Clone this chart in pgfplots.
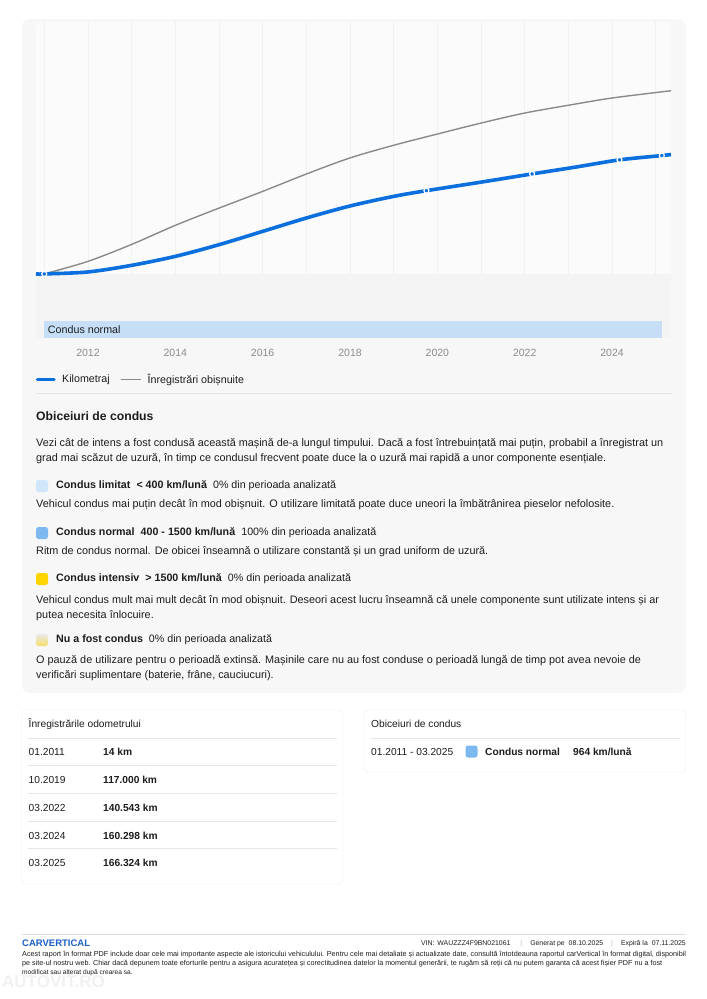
\documentclass[border=0pt]{standalone}
\usepackage{fontspec}
\setmainfont{Liberation Sans}
\usepackage{pgfplots}
\pgfplotsset{compat=1.18}
\definecolor{kmblue}{HTML}{0B6FDE}
\definecolor{lgrey}{HTML}{8A8A8A}
\definecolor{cardbg}{HTML}{F7F7F7}
\definecolor{plotbg}{HTML}{FBFBFB}
\definecolor{zerobg}{HTML}{F4F4F4}
\definecolor{gridc}{HTML}{F1F1F1}
\definecolor{bandblue}{HTML}{C6DFF7}
\definecolor{txt}{HTML}{1D1D1F}
\definecolor{tickc}{HTML}{8C8C8C}
\definecolor{limblue}{HTML}{CFE6FB}
\definecolor{normblue}{HTML}{7DB8F1}
\definecolor{intyel}{HTML}{FFD400}
\definecolor{sepc}{HTML}{E6E6E6}
\definecolor{logoblue}{HTML}{1A5FC8}
\definecolor{nuA}{HTML}{E9E9E9}
\definecolor{nuB}{HTML}{F6DD6A}
\definecolor{cardline}{HTML}{ECECEC}
\definecolor{footline}{HTML}{DDDDDD}
\definecolor{barc}{HTML}{BBBBBB}
\definecolor{wmark}{HTML}{F1F1F1}
\newcommand{\fs}[1]{\fontsize{#1}{#1}\selectfont}
\tikzset{t/.style={anchor=west, inner sep=0pt, text=txt}}
\begin{document}
\begin{tikzpicture}[x=1pt,y=1pt]
\useasboundingbox (0,0) rectangle (707,-999);
\fill[white] (0,0) rectangle (707,-999);
% big card
\fill[cardbg, rounded corners=8pt] (22,-19) rectangle (686,-693);
\fill[plotbg, rounded corners=5pt] (36,-22) rectangle (671,-338);
\begin{axis}[at={(36pt,-338pt)}, anchor=south west, width=635pt, height=316pt, scale only axis,
  xmin=2010.81, xmax=2025.35, ymin=-90000, ymax=354000,
  axis line style={draw=none}, ytick=\empty,
  xtick={2012,2014,2016,2018,2020,2022,2024},
  xticklabels={2012,2014,2016,2018,2020,2022,2024},
  minor xtick={2011,2013,2015,2017,2019,2021,2023,2025},
  xmajorgrids, xminorgrids,
  major grid style={gridc, line width=0.7pt},
  minor grid style={gridc, line width=0.7pt},
  major tick length=0pt, minor tick length=0pt,
  xticklabel style={font=\fs{10.5}, text=tickc, anchor=center, yshift=-15pt},
  /pgf/number format/assume math mode=true,
  clip=false]
\addplot[fill=zerobg, draw=none, forget plot] coordinates {(2010.81,-90000) (2025.35,-90000) (2025.35,0) (2010.81,0)} -- cycle;
\addplot[fill=bandblue, draw=none, forget plot] coordinates {(2011.0,-89800) (2025.14,-89800) (2025.14,-66600) (2011.0,-66600)} -- cycle;
\node[t, font=\fs{10.7}] at (axis cs:2011.08,-78200) {Condus normal};
\addplot[smooth, color=lgrey, line width=1.4pt] coordinates {
(2011.0,14) (2012,17700) (2013,41500) (2014,68300) (2015,92500) (2016,116000) (2017,140400)
(2018,163000) (2019,180800) (2020,196600) (2021,212000) (2022,226100) (2023,237000)
(2024,247200) (2025.35,257400)};
\addplot[smooth, color=kmblue, line width=3.6pt] coordinates {
(2010.81,14) (2011.0,14) (2012,2800) (2013,12100) (2014,24700) (2015,41100) (2016,59800)
(2017,78600) (2018,95500) (2019,109000) (2019.75,117000) (2021,129000) (2022.17,140543)
(2023.2,150500) (2024.17,160298) (2025.14,166324) (2025.35,167800)};
\addplot[only marks, mark=*, mark size=2.5pt, mark options={fill=kmblue, draw=white, line width=1.2pt}] coordinates {
(2011.0,14) (2019.75,117000) (2022.17,140543) (2024.17,160298) (2025.14,166324)};
\end{axis}
% legend
\draw[kmblue, line width=3.5pt, line cap=round] (37.5,-379.5) -- (54,-379.5);
\node[t, font=\fs{10.7}] at (62,-379.5) {Kilometraj};
\draw[lgrey, line width=1.4pt] (121,-379.5) -- (141,-379.5);
\node[t, font=\fs{10.7}] at (147.5,-379.5) {Înregistrări obișnuite};
\draw[sepc, line width=1pt] (36,-393) -- (672,-393);
% driving habits
\node[t, font=\fs{12.2}\bfseries] at (36,-416) {Obiceiuri de condus};
\node[t, font=\fs{10.85}] at (36,-444) {Vezi cât de intens a fost condusă această mașină de-a lungul timpului. Dacă a fost întrebuințată mai puțin, probabil a înregistrat un};
\node[t, font=\fs{10.85}] at (36,-459) {grad mai scăzut de uzură, în timp ce condusul frecvent poate duce la o uzură mai rapidă a unor componente esențiale.};
\fill[limblue, rounded corners=2.5pt] (36,-480) rectangle (48,-492);
\node[t, font=\fs{10.7}] at (56,-486) {\textbf{Condus limitat}\hspace{6pt}\textbf{< 400 km/lună}\hspace{6pt}0\% din perioada analizată};
\node[t, font=\fs{10.85}] at (36,-505) {Vehicul condus mai puțin decât în mod obișnuit. O utilizare limitată poate duce uneori la îmbătrânirea pieselor nefolosite.};
\fill[normblue, rounded corners=2.5pt] (36,-527) rectangle (48,-539);
\node[t, font=\fs{10.7}] at (56,-533) {\textbf{Condus normal}\hspace{6pt}\textbf{400 - 1500 km/lună}\hspace{6pt}100\% din perioada analizată};
\node[t, font=\fs{10.85}] at (36,-552) {Ritm de condus normal. De obicei înseamnă o utilizare constantă și un grad uniform de uzură.};
\fill[intyel, rounded corners=2.5pt] (36,-573) rectangle (48,-585);
\node[t, font=\fs{10.7}] at (56,-579) {\textbf{Condus intensiv}\hspace{6pt}\textbf{> 1500 km/lună}\hspace{6pt}0\% din perioada analizată};
\node[t, font=\fs{10.85}] at (36,-601) {Vehicul condus mult mai mult decât în mod obișnuit. Deseori acest lucru înseamnă că unele componente sunt utilizate intens și ar};
\node[t, font=\fs{10.85}] at (36,-615.5) {putea necesita înlocuire.};
\shade[top color=nuA, bottom color=nuB, rounded corners=2.5pt] (36,-634) rectangle (48,-646);
\node[t, font=\fs{10.7}] at (56,-640) {\textbf{Nu a fost condus}\hspace{6pt}0\% din perioada analizată};
\node[t, font=\fs{10.85}] at (36,-661) {O pauză de utilizare pentru o perioadă extinsă. Mașinile care nu au fost conduse o perioadă lungă de timp pot avea nevoie de};
\node[t, font=\fs{10.85}] at (36,-675.5) {verificări suplimentare (baterie, frâne, cauciucuri).};
% tables
\filldraw[fill=white, draw=cardline, rounded corners=4pt] (22,-710) rectangle (343,-884);
\filldraw[fill=white, draw=cardline, rounded corners=4pt] (364,-710) rectangle (686,-772);
\node[t, font=\fs{10.2}] at (28.5,-724) {Înregistrările odometrului};
\foreach \yy in {738,765.5,793,821,848.5} {\draw[sepc, line width=0.9pt] (28,-\yy) -- (337,-\yy);}
\node[t, font=\fs{10.2}] at (28.5,-751.5) {01.2011};
\node[t, font=\fs{10.2}\bfseries] at (103,-751.5) {14 km};
\node[t, font=\fs{10.2}] at (28.5,-779.5) {10.2019};
\node[t, font=\fs{10.2}\bfseries] at (103,-779.5) {117.000 km};
\node[t, font=\fs{10.2}] at (28.5,-807.5) {03.2022};
\node[t, font=\fs{10.2}\bfseries] at (103,-807.5) {140.543 km};
\node[t, font=\fs{10.2}] at (28.5,-835.5) {03.2024};
\node[t, font=\fs{10.2}\bfseries] at (103,-835.5) {160.298 km};
\node[t, font=\fs{10.2}] at (28.5,-863) {03.2025};
\node[t, font=\fs{10.2}\bfseries] at (103,-863) {166.324 km};
\node[t, font=\fs{10.2}] at (371,-724) {Obiceiuri de condus};
\draw[sepc, line width=0.9pt] (371,-738) -- (680,-738);
\node[t, font=\fs{10.2}] at (371,-751.5) {01.2011 - 03.2025};
\fill[normblue, rounded corners=2.5pt] (465.5,-745.5) rectangle (477.5,-757.5);
\node[t, font=\fs{10.2}\bfseries] at (485,-751.5) {Condus normal};
\node[t, font=\fs{10.2}\bfseries] at (573,-751.5) {964 km/lună};
% footer
\draw[footline, line width=1.5pt] (22,-934.5) -- (686,-934.5);
\node[anchor=west, inner sep=0pt, text=logoblue, font=\fs{9.5}\bfseries] at (22,-943.5) {CARVERTICAL};
\node[anchor=east, inner sep=0pt, text=txt, font=\fs{6.9}] at (686,-943.5) {VIN:\hspace{3pt}WAUZZZ4F9BN021061\hspace{10pt}{\color{barc}|}\hspace{8pt}Generat pe\hspace{2pt} 08.10.2025\hspace{8pt}{\color{barc}|}\hspace{8pt}Expiră la\hspace{2pt} 07.11.2025};
\node[t, font=\fs{6.6}] at (22,-954.5) {\resizebox{664pt}{!}{Acest raport în format PDF include doar cele mai importante aspecte ale istoricului vehiculului. Pentru cele mai detaliate și actualizate date, consultă întotdeauna raportul carVertical în format digital, disponibil}};
\node[t, font=\fs{6.6}] at (22,-963.5) {\resizebox{640pt}{!}{pe site-ul nostru web. Chiar dacă depunem toate eforturile pentru a asigura acuratețea și corectitudinea datelor la momentul generării, te rugăm să reții că nu putem garanta că acest fișier PDF nu a fost}};
\node[t, font=\fs{6.6}] at (22,-972.5) {modificat sau alterat după crearea sa.};
\node[anchor=west, inner sep=0pt, text=wmark, font=\fs{17}\bfseries] at (2,-982) {AUTOVIT.RO};
\end{tikzpicture}
\end{document}
